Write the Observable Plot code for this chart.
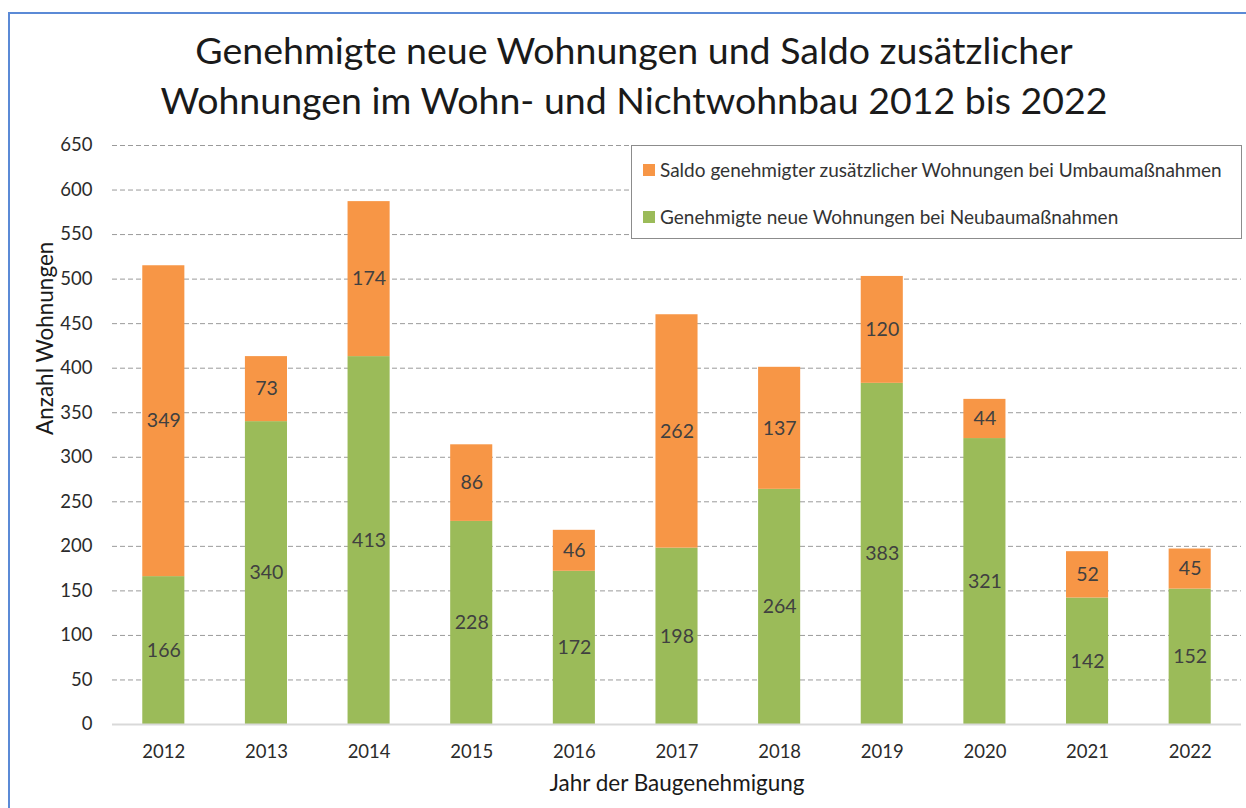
<!DOCTYPE html>
<html>
<head>
<meta charset="utf-8">
<script src="https://cdn.jsdelivr.net/npm/d3@7"></script>
<script src="https://cdn.jsdelivr.net/npm/@observablehq/plot@0.6"></script>
<style>
  html, body { margin: 0; padding: 0; background: #fff; overflow: hidden; }
  body { width: 1246px; height: 808px; position: relative; font-family: Lato, "Open Sans", sans-serif; }
  #frame { position: absolute; left: 8px; top: 12px; width: 1400px; height: 1000px; border-left: 2px solid #5b8ad6; border-top: 2px solid #5b8ad6; }
  #chart { position: absolute; left: 0; top: 0; }
  #title { position: absolute; left: 10px; width: 1248px; top: 25px; text-align: center; font-size: 37.5px; line-height: 50px; color: #1a1a1a; white-space: nowrap; }
  #legend { position: absolute; left: 631px; top: 145px; width: 611px; height: 94px; border: 1px solid #8c8c8c; background: #fff; box-sizing: border-box; font-size: 19px; color: #333; }
  .item { position: absolute; left: 11px; display: flex; align-items: center; white-space: nowrap; }
  .sw { width: 12px; height: 12px; margin-right: 5px; }
</style>
</head>
<body>
<div id="frame"></div>
<div id="chart"></div>
<div id="title">Genehmigte neue Wohnungen und Saldo zusätzlicher<br>Wohnungen im Wohn- und Nichtwohnbau 2012 bis 2022</div>
<div id="legend"></div>
<script>
const years = ["2012","2013","2014","2015","2016","2017","2018","2019","2020","2021","2022"];
const neubau = [166, 340, 413, 228, 172, 198, 264, 383, 321, 142, 152];
const umbau  = [349, 73, 174, 86, 46, 262, 137, 120, 44, 52, 45];
const seriesNames = ["Genehmigte neue Wohnungen bei Neubaumaßnahmen", "Saldo genehmigter zusätzlicher Wohnungen bei Umbaumaßnahmen"];
const seriesColors = ["#9bbb59", "#f79646"];
const yTicks = [0,50,100,150,200,250,300,350,400,450,500,550,600,650];

const data = [];
years.forEach((y, i) => {
  data.push({year: y, series: seriesNames[0], value: neubau[i]});
  data.push({year: y, series: seriesNames[1], value: umbau[i]});
});

const chart = Plot.plot({
  width: 1246,
  height: 808,
  marginLeft: 112,
  marginRight: 5,
  marginTop: 145,
  marginBottom: 84,
  style: {fontFamily: "Lato, 'Open Sans', sans-serif", fontSize: "18px", color: "#2b2b2b", background: "transparent"},
  x: {domain: years, paddingInner: 0.59, paddingOuter: 0.295, round: false, label: null},
  y: {domain: [0, 650], label: null},
  color: {domain: seriesNames, range: seriesColors},
  marks: [
    Plot.ruleY(yTicks.filter(d => d > 0), {stroke: "#9a9a9a", strokeDasharray: "5,3", strokeWidth: 1}),
    Plot.barY(data, Plot.stackY({x: "year", y: "value", z: "series", fill: "series", order: seriesNames})),
    Plot.ruleY([0], {stroke: "#d9d9d9", strokeWidth: 2}),
    Plot.text(data, Plot.stackY({x: "year", y: "value", z: "series", order: seriesNames, text: d => String(d.value), fill: "#404040", fontSize: 19.5})),
    Plot.axisY({ticks: yTicks, tickSize: 0, tickPadding: 20, fontSize: 18.5, label: null}),
    Plot.axisX({tickSize: 0, tickPadding: 20, fontSize: 18.5, label: null}),
    Plot.text(["Anzahl Wohnungen"], {frameAnchor: "left", dx: -67, rotate: -90, fontSize: 22.5, fill: "#1a1a1a"}),
    Plot.text(["Jahr der Baugenehmigung"], {frameAnchor: "bottom", dy: 66, fontSize: 22.5, fill: "#1a1a1a"})
  ]
});
document.getElementById("chart").appendChild(chart);

const legend = document.getElementById("legend");
[[1, 24], [0, 71]].forEach(([k, top]) => {
  const it = document.createElement("div");
  it.className = "item";
  it.style.top = (top - 12) + "px";
  const sw = document.createElement("div");
  sw.className = "sw";
  sw.style.background = seriesColors[k];
  const tx = document.createElement("span");
  tx.textContent = seriesNames[k];
  it.appendChild(sw); it.appendChild(tx);
  legend.appendChild(it);
});
</script>
</body>
</html>
